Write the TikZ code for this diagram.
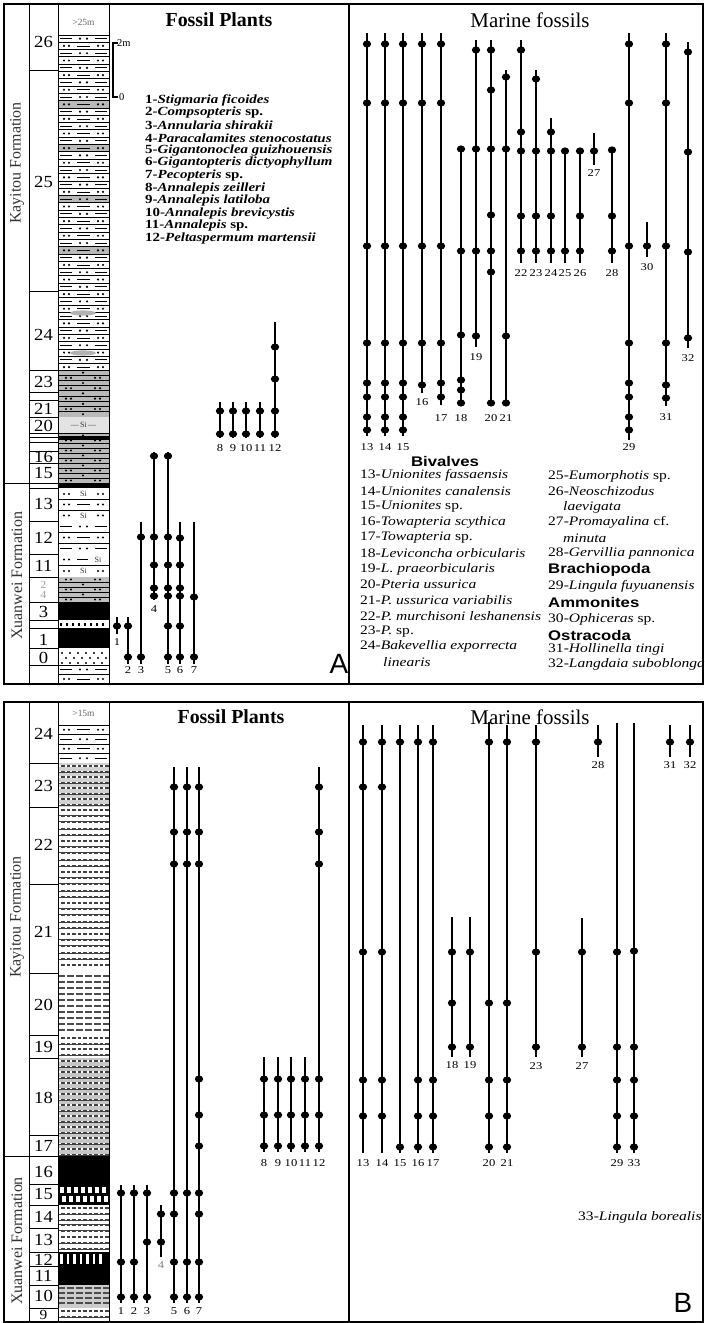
\documentclass[tikz,border=0pt]{standalone}
\usepackage{fontspec}
\setmainfont{Liberation Serif}
\newfontfamily\wideserif[FakeStretch=1.2]{Liberation Serif}
\newfontfamily\midserif[FakeStretch=1.2]{Liberation Serif}
\newfontfamily\bedserif[FakeStretch=1.1]{Liberation Serif}
\newfontfamily\grpsans[FakeStretch=1.2]{Liberation Sans}
\newfontfamily\bigsans{Liberation Sans}

\newcommand\rbar[7]{%
  \draw[barline] (#2,#3) -- (#2,#4);
  \foreach \d in {#5} {\fill (#2,\d) ellipse [x radius=4.2bp, y radius=3.6bp];}
  \node[rlab] (#1r#6) at (#2,#7) {#6};
}
\newcommand\sdot[2]{\fill (#1,#2) circle[radius=1.2bp];}
\newcommand\ddrow[1]{\sdot{64}{#1}\sdot{69}{#1}\sdot{98}{#1}\sdot{103}{#1}}
\newcommand\middash[1]{\draw[lith] (77,#1) -- (90,#1);}
\newcommand\midsi[1]{\node[sitext] (si#1) at (83.5,#1) {Si};}
\newcommand\dashrow[1]{\draw[lith] (60,#1)--(72,#1) (95,#1)--(107,#1); \sdot{80}{#1}\sdot{87}{#1}}
\newcommand\denserow[1]{%
  \draw[line width=2bp, black!75] (58,#1) -- (109,#1);
  \draw[line width=1.2bp, white, dash pattern=on 2bp off 3.5bp] (59,#1) -- (109,#1);}
\newcommand\longdash[1]{%
  \draw[line width=2bp, black!70, dash pattern=on 7bp off 2bp] (58,#1) -- (109,#1);}

\begin{document}
\begin{tikzpicture}[x=1bp,y=-1bp,
  frame/.style={line width=1.7bp},
  gridl/.style={line width=1bp},
  barline/.style={line width=2.2bp},
  lith/.style={line width=0.8bp},
  rlab/.style={font=\midserif\fontsize{10.5}{10.5}\selectfont, inner sep=0pt},
  bednum/.style={font=\bedserif\fontsize{17}{17}\selectfont, inner sep=0pt},
  sitext/.style={font=\fontsize{8}{8}\selectfont, inner sep=0pt, text=black!80},
  ttlb/.style={font=\bfseries\fontsize{20}{20}\selectfont, inner sep=0pt},
  ttlm/.style={font=\fontsize{21}{21}\selectfont, inner sep=0pt},
  plantsp/.style={font=\wideserif\bfseries\fontsize{12.5}{12.5}\selectfont, anchor=west, inner sep=0pt},
  marsp/.style={font=\midserif\fontsize{13}{13}\selectfont, anchor=west, inner sep=0pt},
  grp/.style={font=\grpsans\bfseries\fontsize{14}{14}\selectfont, inner sep=0pt},
  formation/.style={font=\fontsize{16}{16}\selectfont, rotate=90, inner sep=0pt, text=black!80},
  hdr/.style={font=\fontsize{9.5}{9.5}\selectfont, inner sep=0pt, text=black!60},
  panel/.style={font=\bigsans\fontsize{28}{28}\selectfont, inner sep=0pt},
]
\useasboundingbox (0,0) rectangle (704,1323);
\fill[white] (0,0) rectangle (704,1323);

%%%%%%%%%%%%%%%%%%%%%%%% PANEL A %%%%%%%%%%%%%%%%%%%%%%%%
% --- lithology column A
\foreach \k in {9,15,22,29} {\fill[gray!55] (58,{35+7.3*\k}) rectangle (109,{42.3+7.3*\k});}
\foreach \k in {0,...,45} {
  \pgfmathsetmacro\yl{35+7.3*\k}
  \pgfmathsetmacro\yy{38.65+7.3*\k}
  \draw[lith] (58,\yl) -- (109,\yl);
  \ifodd\k\relax \ddrow{\yy}\middash{\yy} \else \dashrow{\yy} \fi
}
\fill[gray!60] (83,313) ellipse [x radius=13bp, y radius=2.6bp];
\fill[gray!60] (83,353) ellipse [x radius=13bp, y radius=2.6bp];
% beds 23-15
\fill[gray!55] (58,370) rectangle (109,483);
\fill[gray!22] (58,417) rectangle (109,433);
\foreach \k in {0,...,8} {
  \pgfmathsetmacro\yl{370+5.2*\k}
  \pgfmathsetmacro\yy{372.6+5.2*\k}
  \draw[lith] (58,\yl) -- (109,\yl);
  \ifodd\k\relax \sdot{66}{\yy}\sdot{71}{\yy}\sdot{95}{\yy}\sdot{100}{\yy} \else \sdot{83}{\yy} \fi
}
\foreach \k in {0,...,9} {
  \pgfmathsetmacro\yl{433+5*\k}
  \pgfmathsetmacro\yy{435.5+5*\k}
  \draw[lith] (58,\yl) -- (109,\yl);
  \ifodd\k\relax \sdot{66}{\yy}\sdot{71}{\yy}\sdot{95}{\yy}\sdot{100}{\yy} \else \sdot{83}{\yy} \fi
}
\node[sitext] (si20) at (83.5,425) {---\,Si\,---};
\fill (58,436) rectangle (109,440);
\fill (58,483) rectangle (109,488);
% bed 13
\draw[lith] (58,499) -- (109,499) (58,510) -- (109,510);
\ddrow{494}\midsi{494}
\ddrow{504.5}\middash{504.5}
\ddrow{515.5}\midsi{515.5}
% bed 12
\draw[lith] (58,532) -- (109,532) (58,543) -- (109,543);
\dashrow{526.5}
\ddrow{537.5}\middash{537.5}
\dashrow{548.5}
% bed 11
\draw[lith] (58,565.5) -- (109,565.5);
\sdot{64}{559.5}\sdot{69}{559.5}\draw[lith] (77,559.5) -- (88,559.5);
\node[sitext] (si11a) at (98,559.5) {Si};
\ddrow{571}\midsi{571}
% beds 2-4
\fill[gray!50] (58,577) rectangle (109,602);
\foreach \yl in {582,587,592,597} {\draw[lith] (58,\yl) -- (109,\yl);}
\foreach \yy in {579.5,589.5,599.5} {\sdot{66}{\yy}\sdot{71}{\yy}\sdot{95}{\yy}\sdot{100}{\yy}}
\foreach \yy in {584.5,594.5} {\sdot{83}{\yy}}
% bed 3, 2, 1
\fill (58,602) rectangle (109,620);
\draw[line width=3bp, dash pattern=on 2bp off 4bp] (60,624) -- (108,624);
\fill (58,628) rectangle (109,648);
% bed 0
\foreach \yy/\xo in {653/62,658/66,663/62} {
  \foreach \xx in {0,8,...,40} {\sdot{\xo+\xx}{\yy}}
}
\draw[lith] (58,665) -- (109,665) (58,674.5) -- (109,674.5);
\dashrow{669.5}
\ddrow{679}\middash{679}

% --- frame A
\draw[frame] (4,4) rectangle (703,684);
\draw[gridl] (29,4) -- (29,684) (58,4) -- (58,684) (109,4) -- (109,684);
\draw[frame] (349,4) -- (349,684);
\draw[gridl] (4,483) -- (58,483);
\foreach \yl in {71,292,370,392,400,417,433,437,442,451,463,483,488,521,554,577,602,620,628,648,665}
  {\draw[gridl] (29,\yl) -- (58,\yl);}

\node[hdr] (hA) at (83.5,22) {>25m};
\node[formation] (kA) at (17,163) {Kayitou Formation};
\node[formation] (xA) at (17,576) {Xuanwei Formation};
\foreach \t/\yy in {26/42,25/182,24/335,23/382,21/409,20/426,16/457,15/473,13/504,12/538,11/566,3/612,1/640,0/658}
  {\node[bednum] (bA\t) at (43.5,\yy) {\t};}
\node[bednum, text=black!35, font=\bedserif\fontsize{11}{11}\selectfont] (bA2) at (43.5,585) {2};
\node[bednum, text=black!35, font=\bedserif\fontsize{11}{11}\selectfont] (bA4) at (43.5,595) {4};

% --- Fossil plants A
\node[ttlb] (tpA) at (219,20) {Fossil Plants};
\draw[line width=1.4bp] (118,43) -- (113,43) -- (113,97) -- (118,97);
\node[anchor=west, inner sep=0pt, font=\fontsize{10.5}{10.5}\selectfont] (s2m) at (117,43) {2m};
\node[anchor=west, inner sep=0pt, font=\fontsize{10.5}{10.5}\selectfont] (s0) at (119,97) {0};
\node[plantsp] (p1) at (145,100) {1-\textit{Stigmaria ficoides}};
\node[plantsp] (p2) at (145,112.6) {2-\textit{Compsopteris} sp.};
\node[plantsp] (p3) at (145,125.2) {3-\textit{Annularia shirakii}};
\node[plantsp] (p4) at (145,137.8) {4-\textit{Paracalamites stenocostatus}};
\node[plantsp] (p5) at (145,150.4) {5-\textit{Gigantonoclea guizhouensis}};
\node[plantsp] (p6) at (145,163) {6-\textit{Gigantopteris dictyophyllum}};
\node[plantsp] (p7) at (145,175.6) {7-\textit{Pecopteris} sp.};
\node[plantsp] (p8) at (145,188.2) {8-\textit{Annalepis zeilleri}};
\node[plantsp] (p9) at (145,200.8) {9-\textit{Annalepis latiloba}};
\node[plantsp] (p10) at (145,213.4) {10-\textit{Annalepis brevicystis}};
\node[plantsp] (p11) at (145,226) {11-\textit{Annalepis} sp.};
\node[plantsp] (p12) at (145,238.6) {12-\textit{Peltaspermum martensii}};

\rbar{A}{117}{617}{634}{626}{1}{642}
\rbar{A}{128}{617}{664}{626,657}{2}{670}
\rbar{A}{141}{522}{664}{537,657}{3}{670}
\rbar{A}{154}{452}{600}{456,537,565,588,596}{4}{609}
\rbar{A}{168}{452}{664}{456,537,565,588,596,626,657}{5}{670}
\rbar{A}{180}{522}{664}{538,565,588,596,626,657}{6}{670}
\rbar{A}{194}{522}{664}{597,657}{7}{670}
\rbar{A}{220}{402}{438}{411,434}{8}{448}
\rbar{A}{233}{402}{438}{411,434}{9}{448}
\rbar{A}{246}{402}{438}{411,434}{10}{448}
\rbar{A}{260}{402}{438}{411,434}{11}{448}
\rbar{A}{275}{322}{438}{347,379,411,434}{12}{448}
\node[panel] (lA) at (339,664) {A};

% --- Marine fossils A
\node[ttlm] (tmA) at (530,20) {Marine fossils};
\rbar{A}{367}{33}{436}{44,103,246,343,383,397,417,430}{13}{447}
\rbar{A}{385}{33}{436}{44,103,246,343,383,397,417,430}{14}{447}
\rbar{A}{403}{33}{436}{44,103,246,343,383,397,417,430}{15}{447}
\rbar{A}{422}{33}{393}{44,103,246,343,385}{16}{402}
\rbar{A}{441}{33}{405}{44,103,246,343,383,397}{17}{418}
\rbar{A}{461}{149}{406}{149,251,335,380,390,403}{18}{418}
\rbar{A}{476}{40}{347}{50,149,251,336}{19}{357}
\rbar{A}{491}{40}{406}{50,90,149,215,251,272,403}{20}{418}
\rbar{A}{506}{70}{406}{77,149,336,403}{21}{418}
\rbar{A}{521}{40}{263}{50,132,151,216,251}{22}{273}
\rbar{A}{536}{70}{263}{79,151,216,251}{23}{273}
\rbar{A}{551}{118}{263}{132,151,216,251}{24}{273}
\rbar{A}{565}{151}{263}{151,251}{25}{273}
\rbar{A}{580}{151}{263}{151,216,251}{26}{273}
\rbar{A}{594}{133}{165}{151}{27}{173}
\rbar{A}{612}{150}{263}{150,216,251}{28}{273}
\rbar{A}{629}{33}{440}{44,103,246,343,383,397,417,430}{29}{447}
\rbar{A}{647}{222}{257}{246}{30}{267}
\rbar{A}{666}{33}{406}{44,103,246,343,385,398}{31}{417}
\rbar{A}{688}{42}{348}{52,152,252,338}{32}{358}

\node[grp] (gBiv) at (445,462) {Bivalves};
\node[marsp] (m13) at (360,475.7) {13-\textit{Unionites fassaensis}};
\node[marsp] (m14) at (360,491.2) {14-\textit{Unionites canalensis}};
\node[marsp] (m15) at (360,506.8) {15-\textit{Unionites} sp.};
\node[marsp] (m16) at (360,522.3) {16-\textit{Towapteria scythica}};
\node[marsp] (m17) at (360,537.9) {17-\textit{Towapteria} sp.};
\node[marsp] (m18) at (360,553.4) {18-\textit{Leviconcha orbicularis}};
\node[marsp] (m19) at (360,569) {19-\textit{L. praeorbicularis}};
\node[marsp] (m20) at (360,584.5) {20-\textit{Pteria ussurica}};
\node[marsp] (m21) at (360,600) {21-\textit{P. ussurica variabilis}};
\node[marsp] (m22) at (360,615.6) {22-\textit{P. murchisoni leshanensis}};
\node[marsp] (m23) at (360,631.1) {23-\textit{P.} sp.};
\node[marsp] (m24) at (360,646.7) {24-\textit{Bakevellia exporrecta}};
\node[marsp] (m24b) at (383,662.2) {\textit{linearis}};
\node[marsp] (m25) at (548,476) {25-\textit{Eumorphotis} sp.};
\node[marsp] (m26) at (548,491.5) {26-\textit{Neoschizodus}};
\node[marsp] (m26b) at (563,507) {\textit{laevigata}};
\node[marsp] (m27) at (548,522.6) {27-\textit{Promayalina} cf.};
\node[marsp] (m27b) at (563,538) {\textit{minuta}};
\node[marsp] (m28) at (548,553.8) {28-\textit{Gervillia pannonica}};
\node[grp, anchor=west] (gBra) at (548,570) {Brachiopoda};
\node[marsp] (m29) at (548,586) {29-\textit{Lingula fuyuanensis}};
\node[grp, anchor=west] (gAmm) at (548,603) {Ammonites};
\node[marsp] (m30) at (548,619) {30-\textit{Ophiceras} sp.};
\node[grp, anchor=west] (gOst) at (548,636) {Ostracoda};
\node[marsp] (m31) at (548,649) {31-\textit{Hollinella tingi}};
\node[marsp] (m32) at (548,664) {32-\textit{Langdaia suboblonga}};

%%%%%%%%%%%%%%%%%%%%%%%% PANEL B %%%%%%%%%%%%%%%%%%%%%%%%
% --- lithology column B
\foreach \yl in {725,734.5,744,753.5} {\draw[lith] (58,\yl) -- (109,\yl);}
\ddrow{729.75}\middash{729.75}
\dashrow{739.25}
\ddrow{748.75}\middash{748.75}
\dashrow{758.25}
\fill[gray!35] (58,763) rectangle (109,807);
\foreach \k in {0,...,7} {\pgfmathsetmacro\yy{766+5.5*\k}\denserow{\yy}}
\foreach \k in {0,...,25} {\pgfmathsetmacro\yy{810+6.2*\k}\denserow{\yy}}
\foreach \k in {0,...,9} {\pgfmathsetmacro\yy{976+6*\k}\longdash{\yy}}
\foreach \k in {0,...,3} {\pgfmathsetmacro\yy{1038+5.5*\k}\denserow{\yy}}
\fill[gray!45] (58,1058) rectangle (109,1156);
\foreach \k in {0,...,13} {\pgfmathsetmacro\yy{1061+5.5*\k}\denserow{\yy}}
\foreach \k in {0,...,3} {\pgfmathsetmacro\yy{1138+5.5*\k}\denserow{\yy}}
\fill (58,1156) rectangle (109,1205);
\foreach \xx in {60,67,...,104} {
  \fill[white] (\xx,1187) rectangle ({\xx+4},1193);
  \fill[white] ({\xx+2},1196) rectangle ({\xx+6},1202);
}
\foreach \k in {0,...,7} {\pgfmathsetmacro\yy{1208+5.8*\k}\denserow{\yy}}
\fill (58,1252) rectangle (109,1285);
\foreach \xx in {60,66.5,...,104} {\fill[white] (\xx,1254) rectangle ({\xx+2.5},1264);}
\fill[gray!40] (58,1285) rectangle (109,1308);
\foreach \k in {0,...,3} {\pgfmathsetmacro\yy{1288+5*\k}\longdash{\yy}}
\foreach \k in {0,...,2} {\pgfmathsetmacro\yy{1311+5.5*\k}\denserow{\yy}}

% --- frame B
\draw[frame] (4,702) rectangle (703,1322);
\draw[gridl] (29,702) -- (29,1322) (58,702) -- (58,1322) (109,702) -- (109,1322);
\draw[frame] (349,702) -- (349,1322);
\draw[gridl] (4,1156) -- (58,1156);
\foreach \yl in {763,807,884,973,1035,1058,1135,1156,1184,1205,1228,1252,1266,1285,1308}
  {\draw[gridl] (29,\yl) -- (58,\yl);}

\node[hdr] (hB) at (83.5,713) {>15m};
\node[formation] (kB) at (17,917) {Kayitou Formation};
\node[formation] (xB) at (17,1241) {Xuanwei Formation};
\foreach \t/\yy in {24/734,23/786,22/845,21/932,20/1005,19/1047,18/1098,17/1146,16/1172,15/1194,14/1217,13/1240,12/1260,11/1276,10/1296}
  {\node[bednum] (bB\t) at (43.5,\yy) {\t};}
\node[bednum, font=\bedserif\fontsize{14}{14}\selectfont] (bB9) at (43.5,1315) {9};

% --- Fossil plants B
\node[ttlb] (tpB) at (231,717) {Fossil Plants};
\rbar{B}{121}{1185}{1303}{1193,1262,1297}{1}{1311}
\rbar{B}{134}{1185}{1303}{1193,1262,1297}{2}{1311}
\rbar{B}{147}{1185}{1303}{1193,1242,1297}{3}{1311}
\draw[barline] (161,1205) -- (161,1257);
\foreach \d in {1214,1242} {\fill (161,\d) ellipse [x radius=4.2bp, y radius=3.6bp];}
\node[rlab, text=black!50] (Br4) at (161,1265) {4};
\rbar{B}{174}{767}{1303}{787,832,864,1193,1214,1262,1297}{5}{1311}
\rbar{B}{187}{767}{1303}{787,832,864,1193,1262,1297}{6}{1311}
\rbar{B}{199}{767}{1303}{787,832,864,1079,1115,1146,1193,1214,1262,1297}{7}{1311}
\rbar{B}{264}{1057}{1152}{1079,1115,1146}{8}{1163}
\rbar{B}{278}{1057}{1152}{1079,1115,1146}{9}{1163}
\rbar{B}{291}{1057}{1152}{1079,1115,1146}{10}{1163}
\rbar{B}{305}{1057}{1152}{1079,1115,1146}{11}{1163}
\rbar{B}{319}{767}{1152}{787,832,864,1079,1115,1146}{12}{1163}

% --- Marine fossils B
\node[ttlm] (tmB) at (530,717) {Marine fossils};
\rbar{B}{363}{725}{1153}{742,787,952,1080,1116}{13}{1163}
\rbar{B}{382}{725}{1153}{742,787,952,1080,1116}{14}{1163}
\rbar{B}{400}{725}{1153}{742,1147}{15}{1163}
\rbar{B}{418}{725}{1153}{742,1080,1116,1147}{16}{1163}
\rbar{B}{433}{725}{1153}{742,1080,1116,1147}{17}{1163}
\rbar{B}{452}{917}{1057}{952,1003,1047}{18}{1065}
\rbar{B}{470}{917}{1057}{952,1047}{19}{1065}
\rbar{B}{489}{722}{1153}{742,1003,1080,1116,1147}{20}{1163}
\rbar{B}{507}{725}{1153}{742,1003,1080,1116,1147}{21}{1163}
\rbar{B}{536}{725}{1057}{742,952,1047}{23}{1066}
\rbar{B}{582}{918}{1057}{952,1047}{27}{1066}
\rbar{B}{598}{725}{757}{742}{28}{765}
\rbar{B}{617}{723}{1153}{952,1047,1080,1116,1147}{29}{1163}
\rbar{B}{634}{723}{1153}{951,1047,1080,1116,1147}{33}{1163}
\rbar{B}{670}{725}{757}{742}{31}{765}
\rbar{B}{690}{725}{757}{742}{32}{765}
\node[marsp] (m33) at (578,1217) {33-\textit{Lingula borealis}};
\node[panel] (lB) at (683,1303) {B};
\end{tikzpicture}
\end{document}
